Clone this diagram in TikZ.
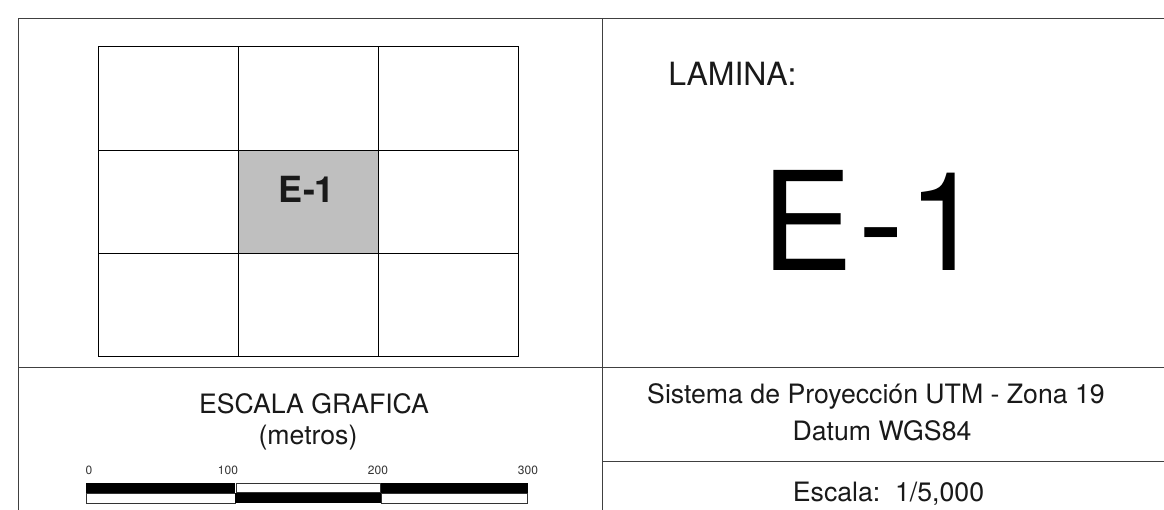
\documentclass[tikz,border=0pt]{standalone}
\usepackage{fontspec}
\setmainfont{TeX Gyre Heros}
\tikzset{
  x=0.75pt,y=-0.75pt,
  frameline/.style={draw=black!75,line width=0.75pt},
  gridline/.style={draw=black,line width=0.75pt},
  label/.style={inner sep=0pt,anchor=base,text=black!90},
  ticktext/.style={inner sep=0pt,anchor=base,text=black!80,font=\fontsize{9pt}{10pt}\selectfont},
  barblack/.style={fill=black},
  barwhite/.style={fill=white,draw=black!80,line width=0.6pt}
}
\begin{document}
\begin{tikzpicture}
\useasboundingbox (0,0) rectangle (1164,510);
\fill[white] (0,0) rectangle (1164,510);
% frame
\draw[frameline] (18,510) -- (18,19) -- (1164,19);
\draw[frameline] (602,19) -- (602,510);
\draw[frameline] (18,367) -- (1164,367);
\draw[frameline] (602,461) -- (1164,461);
% grid
\fill[black!25] (238,150) rectangle (378,253);
\draw[gridline] (98,47) rectangle (518,356);
\draw[gridline] (238,47) -- (238,356);
\draw[gridline] (378,47) -- (378,356);
\draw[gridline] (98,150) -- (518,150);
\draw[gridline] (98,253) -- (518,253);
\node[label,font=\bfseries\fontsize{27pt}{30pt}\selectfont] (cell) at (307,202) {E-1};
% right panel
\node[label,font=\fontsize{24pt}{28pt}\selectfont,anchor=base west] (lam) at (668,86) {LAMINA:};
\node[label,font=\fontsize{103pt}{120pt}\selectfont,text=black] (big) at (873,270) {E\kern 4pt-\kern 2.5pt1};
\node[label,font=\fontsize{20pt}{24pt}\selectfont] (sys) at (876,403) {Sistema de Proyección UTM - Zona 19};
\node[label,font=\fontsize{20pt}{24pt}\selectfont] (dat) at (882,440) {Datum WGS84};
\node[label,font=\fontsize{20pt}{24pt}\selectfont] (esc) at (888.5,501) {Escala:\ \ 1/5,000};
% scale
\node[label,font=\fontsize{20pt}{24pt}\selectfont] (sg) at (314,413) {ESCALA GRAFICA};
\node[label,font=\fontsize{20pt}{24pt}\selectfont] (met) at (308,444) {(metros)};
\node[ticktext] (t0) at (89,474) {0};
\node[ticktext] (t1) at (228,474) {100};
\node[ticktext] (t2) at (378,474) {200};
\node[ticktext] (t3) at (528,474) {300};
\fill[barblack] (86,483) rectangle (235,493);
\fill[barblack] (380,483) rectangle (528,493);
\draw[barwhite] (236,483.5) rectangle (380,492);
\draw[barwhite] (86.5,493) rectangle (235,503);
\fill[barblack] (235,492.5) rectangle (381,503);
\draw[barwhite] (381,493) rectangle (527.5,503);
\end{tikzpicture}
\end{document}
